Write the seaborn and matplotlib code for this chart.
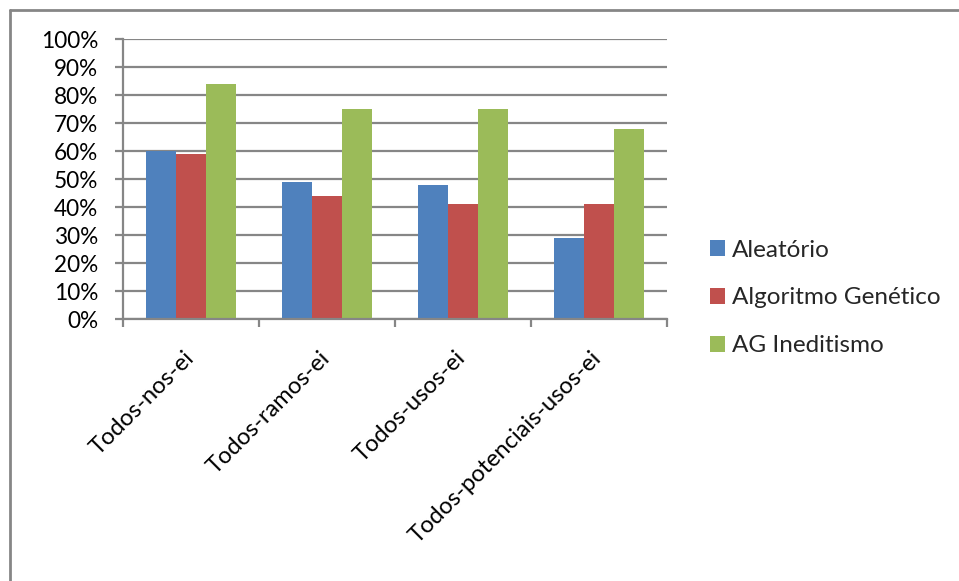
import matplotlib
matplotlib.use("Agg")
import matplotlib.pyplot as plt
import matplotlib.transforms as mtransforms
from matplotlib.lines import Line2D
from matplotlib.ticker import MultipleLocator, FuncFormatter, FixedLocator
import pandas as pd
import seaborn as sns

categories = ["Todos-nos-ei", "Todos-ramos-ei", "Todos-usos-ei", "Todos-potenciais-usos-ei"]
series_names = ["Aleatório", "Algoritmo Genético", "AG Ineditismo"]
aleatorio = [60, 49, 48, 29]
algoritmo_genetico = [59, 44, 41, 41]
ag_ineditismo = [84, 75, 75, 68]
colors = ["#4F81BD", "#C0504D", "#9BBB59"]

rows = []
for name, vals in zip(series_names, [aleatorio, algoritmo_genetico, ag_ineditismo]):
    for cat, v in zip(categories, vals):
        rows.append({"categoria": cat, "serie": name, "valor": v})
df = pd.DataFrame(rows)

sns.set_theme(style="white")
plt.rcParams["font.family"] = ["Lato", "DejaVu Sans"]

fig = plt.figure(figsize=(9.59, 5.81), dpi=100)
ax = fig.add_axes([123 / 959, 1 - 319 / 581, 544 / 959, 280 / 581])

sns.barplot(data=df, x="categoria", y="valor", hue="serie", hue_order=series_names,
            palette=colors, width=0.66, saturation=1, ax=ax, legend=True,
            edgecolor="none", linewidth=0)

grid_c = "#868686"
ax.set_ylim(0, 100)
ax.set_xlim(-0.5, 3.5)
ax.yaxis.set_major_locator(MultipleLocator(10))
ax.yaxis.set_major_formatter(FuncFormatter(lambda v, p: f"{int(round(v))}%"))
ax.grid(axis="y", color=grid_c, linewidth=1.6)
ax.set_axisbelow(True)
for s in ["top", "right"]:
    ax.spines[s].set_visible(False)
for s in ["left", "bottom"]:
    ax.spines[s].set_color(grid_c)
    ax.spines[s].set_linewidth(1.6)

ax.set_xlabel("")
ax.set_ylabel("")
ax.tick_params(axis="y", left=True, length=6, width=1.6, color=grid_c,
               labelsize=16.3, labelcolor="black", pad=12)
# category boundary ticks
ax.xaxis.set_major_locator(FixedLocator([-0.5, 0.5, 1.5, 2.5, 3.5]))
ax.xaxis.set_major_formatter(FuncFormatter(lambda v, p: ""))
ax.tick_params(axis="x", bottom=True, length=6, width=1.6, color=grid_c)

offset = mtransforms.ScaledTranslation(-8 / 100, -28 / 100, fig.dpi_scale_trans)
for i, cat in enumerate(categories):
    ax.text(i, 0, cat, rotation=45, ha="right", va="top", rotation_mode="anchor",
            fontsize=17, color="black",
            transform=mtransforms.blended_transform_factory(ax.transData, ax.transAxes) + offset)

handles, labels = ax.get_legend_handles_labels()
ax.legend(handles, labels, loc="center left", bbox_to_anchor=(710 / 959, 1 - 298 / 581),
          bbox_transform=fig.transFigure, frameon=False, fontsize=17.5,
          handlelength=0.62, handleheight=0.62, handletextpad=0.3,
          labelspacing=1.1, borderaxespad=0, borderpad=0)

# outer chart frame
fig.add_artist(Line2D([9.5 / 959, 1], [1 - 9.5 / 581] * 2, transform=fig.transFigure,
                      color=grid_c, linewidth=2))
fig.add_artist(Line2D([9.5 / 959] * 2, [0, 1 - 9.5 / 581], transform=fig.transFigure,
                      color=grid_c, linewidth=2))

fig.savefig("out.png", dpi=100)
